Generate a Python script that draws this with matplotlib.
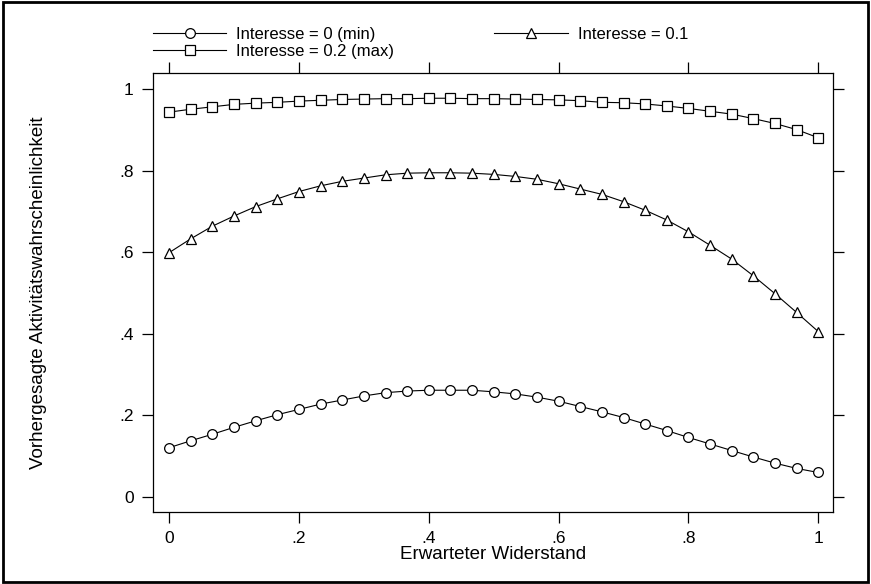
import numpy as np
import matplotlib
matplotlib.use("Agg")
import matplotlib.pyplot as plt
from matplotlib.patches import Rectangle

plt.rcParams['font.family'] = ['Liberation Sans', 'DejaVu Sans']

# erwarteter Widerstand, 31 Stuetzstellen
widerstand = np.linspace(0, 1, 31)

p_min = [0.120, 0.137, 0.153, 0.170, 0.186, 0.201, 0.214, 0.227, 0.237, 0.247,
         0.255, 0.259, 0.261, 0.261, 0.261, 0.257, 0.252, 0.244, 0.234, 0.221,
         0.208, 0.194, 0.178, 0.162, 0.145, 0.129, 0.113, 0.097, 0.082, 0.069,
         0.059]
p_mid = [0.599, 0.633, 0.664, 0.689, 0.712, 0.731, 0.749, 0.763, 0.774, 0.782,
         0.790, 0.794, 0.795, 0.795, 0.794, 0.791, 0.786, 0.779, 0.768, 0.755,
         0.742, 0.724, 0.703, 0.679, 0.650, 0.617, 0.583, 0.542, 0.498, 0.452,
         0.405]
p_max = [0.944, 0.951, 0.957, 0.963, 0.966, 0.968, 0.971, 0.973, 0.975, 0.976,
         0.977, 0.977, 0.978, 0.978, 0.977, 0.977, 0.976, 0.975, 0.974, 0.972,
         0.968, 0.967, 0.964, 0.959, 0.953, 0.946, 0.939, 0.928, 0.916, 0.901,
         0.881]

labels = ['Interesse = 0 (min)', 'Interesse = 0.1', 'Interesse = 0.2 (max)']
xticks = [0, 0.2, 0.4, 0.6, 0.8, 1]
xticklabels = ['0', '.2', '.4', '.6', '.8', '1']
yticks = [0, 0.2, 0.4, 0.6, 0.8, 1]
yticklabels = ['0', '.2', '.4', '.6', '.8', '1']

fig = plt.figure(figsize=(8.71, 5.84), dpi=100)
ax = fig.add_axes([153/871, 1-512/584, (833-153)/871, (512-73)/584])

mk = dict(color='black', lw=0.8, mfc='white', mec='black', mew=0.9, ms=7)
l1, = ax.plot(widerstand, p_min, marker='o', label=labels[0], **mk)
l2, = ax.plot(widerstand, p_mid, marker='^', label=labels[1], **mk)
l3, = ax.plot(widerstand, p_max, marker='s', label=labels[2], **mk)

ax.set_xlim(-0.025, 1.0227)
ax.set_ylim(-0.038, 1.040)
ax.set_xticks(xticks)
ax.set_xticklabels(xticklabels)
ax.set_yticks(yticks)
ax.set_yticklabels(yticklabels)
ax.tick_params(direction='out', length=8, width=0.9, labelsize=12.5, pad=6,
               top=True, right=True, labeltop=False, labelright=False)
for s in ax.spines.values():
    s.set_linewidth(0.9)

ax.set_xlabel('Erwarteter Widerstand', fontsize=13.5, labelpad=0)
ax.set_ylabel('Vorhergesagte Aktivitätswahrscheinlichkeit', fontsize=13.5, labelpad=52)

# legende oben, spaltenweise gefuellt -> Reihenfolge anpassen
fig.legend([l1, l3, l2], [labels[0], labels[2], labels[1]], ncol=2,
           loc='upper left', bbox_to_anchor=(153/871, 1-27/584),
           frameon=False, fontsize=12, borderpad=0, borderaxespad=0,
           handlelength=4.4, handletextpad=0.6, columnspacing=6.0,
           labelspacing=0.1)

# rahmen um die ganze grafik
fig.patches.append(Rectangle((0.003, 0.004), 0.994, 0.992, transform=fig.transFigure,
                             fill=False, edgecolor='black', lw=2))

fig.savefig('out.png', dpi=100)
